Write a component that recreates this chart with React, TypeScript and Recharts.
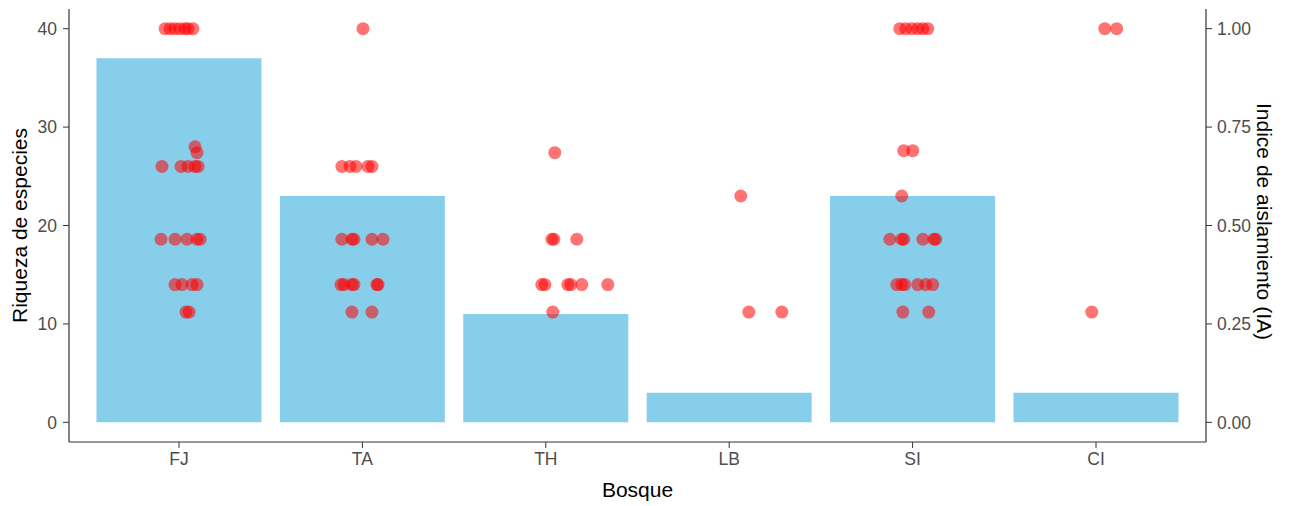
import React from 'react';
import { ComposedChart, Bar, Scatter, XAxis, YAxis, Label } from 'recharts';

// bosques y riqueza de especies (barras)
const bosques = ['FJ', 'TA', 'TH', 'LB', 'SI', 'CI'];
const riqueza = [37, 23, 11, 3, 23, 3];

// indice de aislamiento por bosque: [desplazamiento jitter, IA]
const puntosFJ: [number, number][] = [
  [-0.076, 1], [-0.049, 1], [-0.022, 1], [0.005, 1], [0.033, 1], [0.049, 1], [0.076, 1],
  [0.087, 0.7], [0.098, 0.685],
  [-0.093, 0.65], [0.011, 0.65], [0.049, 0.65], [0.087, 0.65], [0.104, 0.65],
  [-0.098, 0.465], [-0.022, 0.465], [0.044, 0.465], [0.098, 0.465], [0.115, 0.465],
  [-0.022, 0.35], [0.016, 0.35], [0.071, 0.35], [0.098, 0.35],
  [0.038, 0.28], [0.055, 0.28],
];
const puntosTA: [number, number][] = [
  [0.003, 1],
  [-0.112, 0.65], [-0.068, 0.65], [-0.035, 0.65], [0.03, 0.65], [0.052, 0.65],
  [-0.112, 0.465], [-0.057, 0.465], [-0.046, 0.465], [0.052, 0.465], [0.112, 0.465],
  [-0.117, 0.35], [-0.101, 0.35], [-0.057, 0.35], [-0.046, 0.35], [0.079, 0.35], [0.085, 0.35],
  [-0.057, 0.28], [0.052, 0.28],
];
const puntosTH: [number, number][] = [
  [0.049, 0.685],
  [0.033, 0.465], [0.044, 0.465], [0.169, 0.465],
  [-0.022, 0.35], [-0.005, 0.35], [0.12, 0.35], [0.136, 0.35], [0.196, 0.35], [0.338, 0.35],
  [0.038, 0.28],
];
const puntosLB: [number, number][] = [
  [0.063, 0.575], [0.107, 0.28], [0.287, 0.28],
];
const puntosSI: [number, number][] = [
  [-0.07, 1], [-0.037, 1], [-0.004, 1], [0.028, 1], [0.056, 1], [0.083, 1],
  [-0.048, 0.69], [0.001, 0.69],
  [-0.059, 0.575],
  [-0.124, 0.465], [-0.059, 0.465], [-0.048, 0.465], [0.056, 0.465], [0.116, 0.465], [0.126, 0.465],
  [-0.086, 0.35], [-0.059, 0.35], [-0.043, 0.35], [0.028, 0.35], [0.072, 0.35], [0.11, 0.35],
  [-0.053, 0.28], [0.088, 0.28],
];
const puntosCI: [number, number][] = [
  [0.048, 1], [0.113, 1], [-0.023, 0.28],
];

const ticksRiqueza = [0, 10, 20, 30, 40];
const ticksIA = [0, 0.25, 0.5, 0.75, 1];

const barData = bosques.map((b, i) => ({ bosque: b, riqueza: riqueza[i] }));
const puntos = [puntosFJ, puntosTA, puntosTH, puntosLB, puntosSI, puntosCI];
const scatterData = puntos.flatMap((grupo, i) =>
  grupo.map(([dx, ia]) => ({ x: i + 1 + dx, ia }))
);

const FONT = '"Liberation Sans", Arial, sans-serif';
const tickStyle = { fontFamily: FONT, fontSize: 17.5, fill: '#4D4D4D' };
const axisColor = '#333333';

const Punto = (p: any) => (
  <circle cx={p.cx} cy={p.cy} r={6.5} fill="#FF0000" fillOpacity={0.55} />
);

export default function App() {
  return (
    <div style={{ position: 'absolute', left: 0, top: 0, width: 1294, height: 506, background: '#fff' }}>
      <ComposedChart
        width={1294}
        height={506}
        data={barData}
        margin={{ top: 9, right: 0, bottom: 0, left: 0 }}
        barCategoryGap="5%"
      >
        <XAxis
          xAxisId="cat"
          dataKey="bosque"
          height={64}
          padding={{ left: 18.3, right: 18.3 }}
          tick={tickStyle}
          tickSize={6}
          tickMargin={5}
          axisLine={{ stroke: axisColor, strokeWidth: 1.2 }}
          tickLine={{ stroke: axisColor }}
        >
          <Label
            content={({ viewBox }: any) => (
              <text
                x={viewBox.x + viewBox.width / 2}
                y={497}
                textAnchor="middle"
                style={{ fontFamily: FONT, fontSize: 21, fill: '#000' }}
              >
                Bosque
              </text>
            )}
          />
        </XAxis>
        <XAxis xAxisId="num" dataKey="x" type="number" domain={[0.4, 6.6]} allowDataOverflow hide />
        <YAxis
          yAxisId="left"
          width={69}
          domain={[-2, 42]}
          ticks={ticksRiqueza}
          allowDataOverflow
          tick={tickStyle}
          tickSize={6}
          tickMargin={6}
          axisLine={{ stroke: axisColor, strokeWidth: 1.2 }}
          tickLine={{ stroke: axisColor }}
        >
          <Label
            content={({ viewBox }: any) => {
              const cy = viewBox.y + viewBox.height / 2;
              return (
                <text
                  x={27}
                  y={cy}
                  transform={`rotate(-90, 27, ${cy})`}
                  textAnchor="middle"
                  style={{ fontFamily: FONT, fontSize: 21, fill: '#000' }}
                >
                  Riqueza de especies
                </text>
              );
            }}
          />
        </YAxis>
        <YAxis
          yAxisId="right"
          orientation="right"
          dataKey="ia"
          width={88}
          domain={[-0.05, 1.05]}
          ticks={ticksIA}
          allowDataOverflow
          tickFormatter={(v: number) => v.toFixed(2)}
          tick={tickStyle}
          tickSize={6}
          tickMargin={5}
          axisLine={{ stroke: axisColor, strokeWidth: 1.2 }}
          tickLine={{ stroke: axisColor }}
        >
          <Label
            content={({ viewBox }: any) => {
              const cy = viewBox.y + viewBox.height / 2 - 4;
              return (
                <text
                  x={1257}
                  y={cy}
                  transform={`rotate(90, 1257, ${cy})`}
                  textAnchor="middle"
                  style={{ fontFamily: FONT, fontSize: 21, fill: '#000' }}
                >
                  Indice de aislamiento (IA)
                </text>
              );
            }}
          />
        </YAxis>
        <Bar
          xAxisId="cat"
          yAxisId="left"
          dataKey="riqueza"
          fill="#87CEEB"
          isAnimationActive={false}
        />
        <Scatter
          xAxisId="num"
          yAxisId="right"
          data={scatterData}
          dataKey="ia"
          shape={Punto}
          isAnimationActive={false}
        />
      </ComposedChart>
    </div>
  );
}
